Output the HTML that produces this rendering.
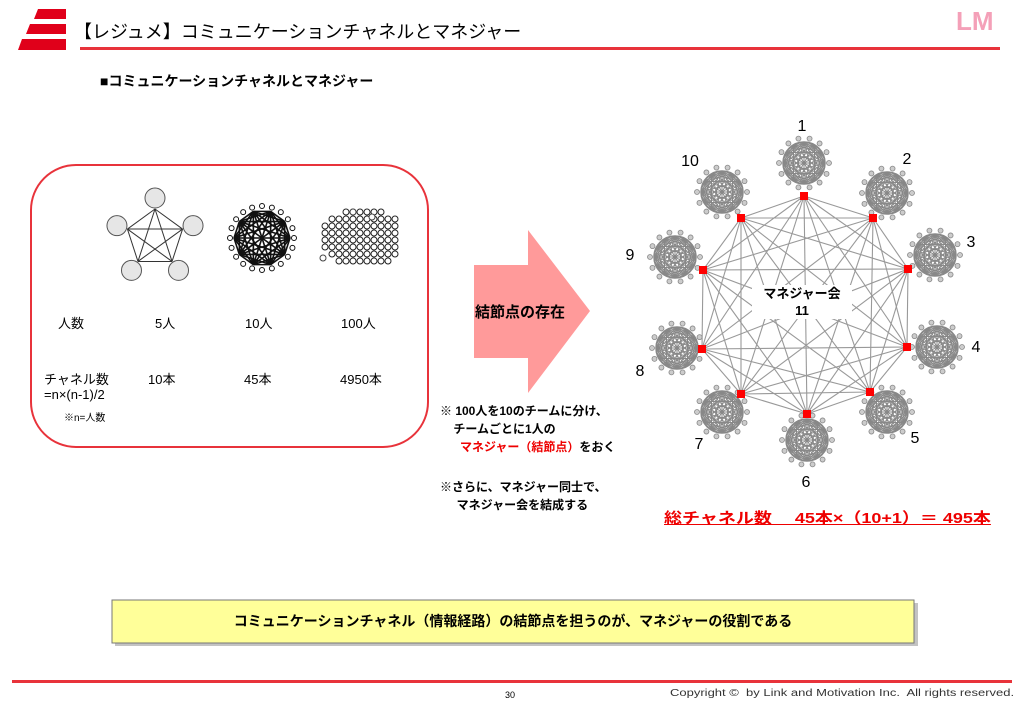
<!DOCTYPE html>
<html><head><meta charset="utf-8"><style>
html,body{margin:0;padding:0;background:#fff;width:1024px;height:708px;overflow:hidden;font-family:"Liberation Sans","Noto Sans CJK JP",sans-serif;}
.t{position:absolute;white-space:nowrap;color:#000;}
</style></head><body>
<svg width="1024" height="708" style="position:absolute;left:0;top:0" id="s">
<polygon points="38,9 66,9 66,19 34,19" fill="#e0001a"/>
<polygon points="30,24 66,24 66,34 26,34" fill="#e0001a"/>
<polygon points="22,39 66,39 66,50 18,50" fill="#e0001a"/>
<rect x="80" y="47" width="920" height="3" fill="#e8333b"/>
<text x="956" y="30" font-size="26" font-weight="bold" fill="#f4a0b8" font-family="Liberation Sans">LM</text>
<rect x="31" y="165" width="397" height="282" rx="45" fill="none" stroke="#e8333b" stroke-width="2"/>
<polygon points="474,265 528,265 528,230 590,311 528,393 528,358 474,358" fill="#ff9a9a"/>
<rect x="115" y="603" width="803" height="43" fill="#888" opacity="0.5"/>
<rect x="112" y="600" width="802" height="43" fill="#ffff99" stroke="#777" stroke-width="1"/>
<rect x="12" y="680" width="1000" height="3" fill="#e8333b"/>
<g id="g"></g>
</svg>
<div class="t" style="left:74px;top:18px;font-size:18px;">【レジュメ】コミュニケーションチャネルとマネジャー</div>
<div class="t" style="left:100px;top:71px;font-size:14px;font-weight:bold;">■コミュニケーションチャネルとマネジャー</div>
<div class="t" style="left:58px;top:313px;font-size:13px;">人数</div>
<div class="t" style="left:155px;top:313px;font-size:13px;">5人</div>
<div class="t" style="left:245px;top:313px;font-size:13px;">10人</div>
<div class="t" style="left:341px;top:313px;font-size:13px;">100人</div>
<div class="t" style="left:44px;top:369px;font-size:13px;">チャネル数</div>
<div class="t" style="left:148px;top:369px;font-size:13px;">10本</div>
<div class="t" style="left:244px;top:369px;font-size:13px;">45本</div>
<div class="t" style="left:340px;top:369px;font-size:13px;">4950本</div>
<div class="t" style="left:44px;top:387px;font-size:13px;">=n×(n-1)/2</div>
<div class="t" style="left:64px;top:409px;font-size:10px;">※n=人数</div>
<div class="t" style="left:475px;top:301px;font-size:15px;font-weight:bold;">結節点の存在</div>
<div class="t" style="left:440px;top:402px;font-size:12px;font-weight:bold;line-height:18px;">※ 100人を10のチームに分け、<br>&nbsp;&nbsp;&nbsp;&nbsp;チームごとに1人の<br>&nbsp;&nbsp;&nbsp;&nbsp;&nbsp;&nbsp;<span style="color:#e00">マネジャー（結節点）</span>をおく</div>
<div class="t" style="left:440px;top:478px;font-size:12px;font-weight:bold;line-height:18px;">※さらに、マネジャー同士で、<br>&nbsp;&nbsp;&nbsp;&nbsp;&nbsp;マネジャー会を結成する</div>
<div class="t" style="left:664px;top:507px;font-size:15px;font-weight:bold;color:#e00;text-decoration:underline;transform:scaleX(1.2);transform-origin:0 0;">総チャネル数　 45本×（10+1）＝ 495本</div>
<div class="t" style="left:112px;top:611px;width:802px;text-align:center;font-size:14px;font-weight:bold;">コミュニケーションチャネル（情報経路）の結節点を担うのが、マネジャーの役割である</div>
<div class="t" style="left:505px;top:690px;font-size:9px;">30</div>
<div class="t" style="left:670px;top:688px;font-size:10px;color:#333;transform:scaleX(1.3);transform-origin:0 0;">Copyright ©&nbsp; by Link and Motivation Inc.&nbsp; All rights reserved.</div>
<div class="t" style="left:752px;top:285px;font-size:13px;font-weight:bold;text-align:center;width:100px;line-height:17px;background:#fff;">マネジャー会<br>11</div>
<script>
var g=document.getElementById('g'),h='';
function L(a,b,c,d,col,w){h+='<line x1="'+a+'" y1="'+b+'" x2="'+c+'" y2="'+d+'" stroke="'+col+'" stroke-width="'+w+'"/>';}
function C(x,y,r,f,s,w){h+='<circle cx="'+x+'" cy="'+y+'" r="'+r+'" fill="'+f+'" stroke="'+s+'" stroke-width="'+w+'"/>';}
function T(x,y,t){h+='<text x="'+x+'" y="'+y+'" font-size="16" text-anchor="middle" font-family="Liberation Sans">'+t+'</text>';}
var p=[];for(var i=0;i<5;i++){var a=-Math.PI/2+i*2*Math.PI/5;p.push([155+29*Math.cos(a),238+29*Math.sin(a)]);}
for(var i=0;i<5;i++)for(var j=i+1;j<5;j++)L(p[i][0],p[i][1],p[j][0],p[j][1],'#333',1);
p.forEach(function(q){var a=Math.atan2(q[1]-238,q[0]-155);C(155+40*Math.cos(a),238+40*Math.sin(a),10,'#e6e6e6','#555',1);});
var q=[];for(var i=0;i<10;i++){var a=i*2*Math.PI/10;q.push([262+28*Math.cos(a),238+28*Math.sin(a)]);}
for(var i=0;i<10;i++)for(var j=i+1;j<10;j++)L(q[i][0],q[i][1],q[j][0],q[j][1],'#111',1.6);
for(var i=0;i<20;i++){var a=i*Math.PI/10;C(262+32*Math.cos(a),238+32*Math.sin(a),2.5,'#fff','#111',1);}
for(var r=0;r<8;r++)for(var c=0;c<11;c++){var x=325+c*7,y=212+r*7;var dx=(x-362)/42,dy=(y-238)/28;if(dx*dx+dy*dy<1.1)C(x,y,3,'#fff','#222',1);}
C(353,212,3,'#fff','#444',1);C(372,217,3,'#fff','#444',1);C(323,258,3,'#fff','#444',1);
var cl=[[804,163],[887,193],[935,255],[937,347],[887,412],[807,440],[722,412],[677,348],[675,257],[722,192]];
cl.forEach(function(c){var n=[];for(var i=0;i<12;i++){var a=i*2*Math.PI/12;n.push([c[0]+21*Math.cos(a),c[1]+21*Math.sin(a)]);}
for(var i=0;i<12;i++)for(var j=i+1;j<12;j++)L(n[i][0],n[i][1],n[j][0],n[j][1],'#888',1);
for(var i=0;i<14;i++){var a=i*2*Math.PI/14;C(c[0]+25*Math.cos(a),c[1]+25*Math.sin(a),2.5,'#ccc','#888',0.8);}
C(c[0],c[1],21,'none','#888',1.5);});
var m=[[804,196],[873,218],[908,269],[907,347],[870,392],[807,414],[741,394],[702,349],[703,270],[741,218]];
for(var i=0;i<10;i++)for(var j=i+1;j<10;j++)L(m[i][0],m[i][1],m[j][0],m[j][1],'#999',1.1);
m.forEach(function(c){h+='<rect x="'+(c[0]-4)+'" y="'+(c[1]-4)+'" width="8" height="8" fill="#f00"/>';});
var lb=[[802,131,'1'],[907,164,'2'],[971,247,'3'],[976,352,'4'],[915,443,'5'],[806,487,'6'],[699,449,'7'],[640,376,'8'],[630,260,'9'],[690,166,'10']];
lb.forEach(function(l){T(l[0],l[1],l[2]);});
g.innerHTML=h;
</script>
</body></html>
